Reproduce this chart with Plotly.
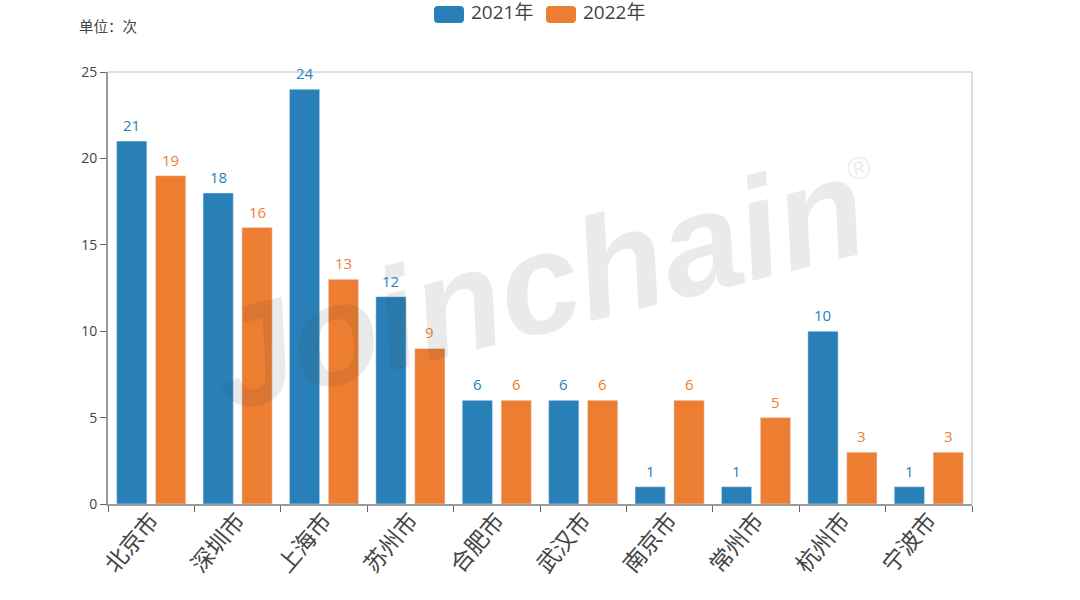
import plotly.graph_objects as go

cities = ['北京市', '深圳市', '上海市', '苏州市', '合肥市', '武汉市', '南京市', '常州市', '杭州市', '宁波市']
values_2021 = [21, 18, 24, 12, 6, 6, 1, 1, 10, 1]
values_2022 = [19, 16, 13, 9, 6, 6, 6, 5, 3, 3]
y_ticks = [0, 5, 10, 15, 20, 25]

BLUE = '#2980b9'
ORANGE = '#ed7d31'
FONT = 'Open Sans, Noto Sans CJK SC, sans-serif'
MARK = 'rgba(60,60,60,0.11)'
MARK_FONT = 'Liberation Sans, sans-serif'

# plot area in page pixels, used to place the hand made legend and watermark
LEFT, TOP, W, H = 108, 72, 864, 432


def px(x):
    return (x - LEFT) / W


def py(y):
    return (TOP + H - y) / H


def swatch(x0, x1, y0, y1, color, r=4):
    path = (f'M {px(x0 + r)} {py(y0)} L {px(x1 - r)} {py(y0)} Q {px(x1)} {py(y0)} {px(x1)} {py(y0 + r)} '
            f'L {px(x1)} {py(y1 - r)} Q {px(x1)} {py(y1)} {px(x1 - r)} {py(y1)} '
            f'L {px(x0 + r)} {py(y1)} Q {px(x0)} {py(y1)} {px(x0)} {py(y1 - r)} '
            f'L {px(x0)} {py(y0 + r)} Q {px(x0)} {py(y0)} {px(x0 + r)} {py(y0)} Z')
    return dict(type='path', xref='paper', yref='paper', path=path, fillcolor=color, line_width=0, layer='above')


def value_labels(values, color, shift):
    # bar text sits too close to the bar, so the labels are annotations
    return [dict(text=str(v), x=c, y=v, xref='x', yref='y', xshift=shift, yshift=16, yanchor='middle',
                 showarrow=False, font=dict(size=15, color=color, family=FONT))
            for c, v in zip(cities, values)]


fig = go.Figure()
fig.add_trace(go.Bar(x=cities, y=values_2021, name='2021年', marker_color=BLUE, width=0.35, offset=-0.4))
fig.add_trace(go.Bar(x=cities, y=values_2022, name='2022年', marker_color=ORANGE, width=0.35, offset=0.05))

fig.update_xaxes(type='category', tickson='boundaries', ticks='outside', ticklen=6, tickcolor='#666',
                 tickangle=-50, tickfont=dict(size=23, color='#444', family=FONT), ticklabelstandoff=-8,
                 showline=True, linecolor='#999', linewidth=2, showgrid=False)
fig.update_yaxes(range=[0, 25], tickvals=y_ticks, ticks='outside', ticklen=6, tickcolor='#666',
                 tickfont=dict(size=14, color='#444', family=FONT), showline=True,
                 linecolor='#999', linewidth=2, showgrid=False, zeroline=False)

# top/right border is lighter than the axes
shapes = [
    dict(type='line', xref='paper', yref='paper', x0=0, x1=1, y0=1, y1=1, line=dict(color='#ddd', width=2)),
    dict(type='line', xref='paper', yref='paper', x0=1, x1=1, y0=0, y1=1, line=dict(color='#ddd', width=2)),
    swatch(434, 464, 6, 23, BLUE),
    swatch(546, 576, 6, 23, ORANGE),
]

annotations = [
    dict(text='单位\uff1a次', xref='paper', yref='paper', x=px(77), y=py(27),
         xanchor='left', yanchor='middle', showarrow=False, font=dict(size=14.5, color='#444', family=FONT)),
    dict(text='2021年', xref='paper', yref='paper', x=px(468.5), y=py(12),
         xanchor='left', yanchor='middle', showarrow=False, font=dict(size=19, color='#444', family=FONT)),
    dict(text='2022年', xref='paper', yref='paper', x=px(581), y=py(12),
         xanchor='left', yanchor='middle', showarrow=False, font=dict(size=19, color='#444', family=FONT)),
    # watermark
    dict(text='<b>Joinchain</b>', xref='paper', yref='paper', x=px(537), y=py(283), xanchor='center', yanchor='middle',
         showarrow=False, textangle=-14, font=dict(size=143, color=MARK, family=MARK_FONT, style='italic')),
    dict(text='®', xref='paper', yref='paper', x=px(859), y=py(168), xanchor='center', yanchor='middle',
         showarrow=False, textangle=-14, font=dict(size=32, color=MARK, family=MARK_FONT)),
]
annotations += value_labels(values_2021, BLUE, -19.44)
annotations += value_labels(values_2022, ORANGE, 19.44)

fig.update_layout(width=1080, height=600, margin=dict(l=LEFT, r=108, t=TOP, b=96),
                  plot_bgcolor='white', paper_bgcolor='white', showlegend=False,
                  shapes=shapes, annotations=annotations, barmode='overlay')

# legend sits in the top 8px, so drop the default body margin
fig.write_html("out.html", post_script="document.body.style.margin='0'", config={'displayModeBar': False})
